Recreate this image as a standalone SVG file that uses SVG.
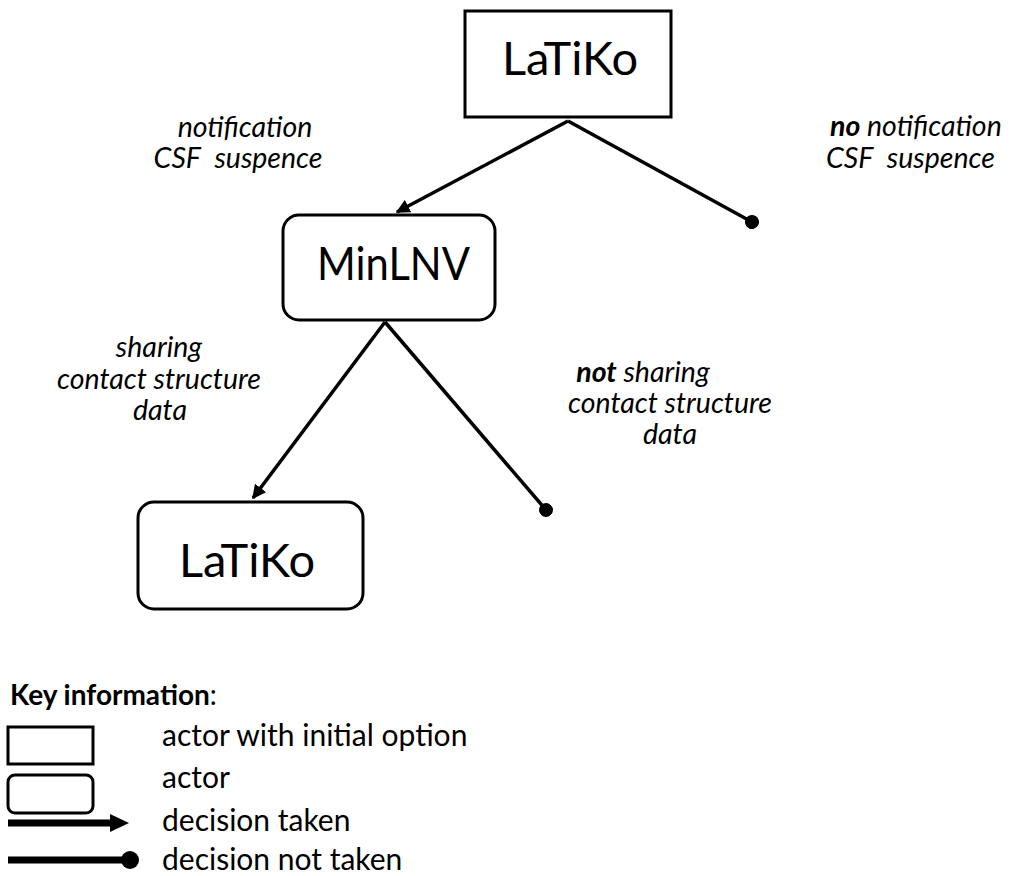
<svg xmlns="http://www.w3.org/2000/svg" width="1011" height="876" viewBox="0 0 1011 876">
  <defs>
    <style>
      text { font-family: Lato, "Open Sans", "Liberation Sans", sans-serif; fill: #000; }
      .box { fill: #fff; stroke: #000; stroke-width: 3; }
      .name { font-size: 47px; text-anchor: middle; }
      .lbl { font-size: 28.5px; font-style: italic; }
      .mid { text-anchor: middle; }
      .gap { word-spacing: -2px; }
      .key { font-size: 30px; }
      .keyhead { font-size: 28px; }
      .edge { stroke: #000; stroke-width: 3.5; fill: none; }
      .keyedge { stroke: #000; stroke-width: 7; fill: none; }
    </style>
    <marker id="arrow" viewBox="0 0 10 10" refX="9" refY="5" markerWidth="4" markerHeight="4" orient="auto" markerUnits="strokeWidth">
      <path d="M0,0 L10,5 L0,10 Z" fill="#000"/>
    </marker>
    <marker id="dot" viewBox="0 0 10 10" refX="5" refY="5" markerWidth="4" markerHeight="4" orient="auto" markerUnits="strokeWidth">
      <circle cx="5" cy="5" r="5" fill="#000"/>
    </marker>
  </defs>

  <!-- connectors -->
  <g id="connectors">
    <line class="edge" x1="568" y1="121" x2="397" y2="212" marker-end="url(#arrow)"/>
    <line class="edge" x1="568" y1="121" x2="752" y2="222" marker-end="url(#dot)"/>
    <line class="edge" x1="385" y1="322" x2="253" y2="498" marker-end="url(#arrow)"/>
    <line class="edge" x1="385" y1="322" x2="546" y2="510" marker-end="url(#dot)"/>
  </g>

  <!-- edge labels -->
  <g id="labels">
    <text class="lbl mid" x="245" y="137">notification</text>
    <text class="lbl mid gap" x="238" y="168" xml:space="preserve">CSF   suspence</text>
    <text class="lbl" x="830" y="136"><tspan font-weight="bold">no</tspan> notification</text>
    <text class="lbl gap" x="826" y="168" xml:space="preserve">CSF   suspence</text>
    <text class="lbl mid" x="159" y="357">sharing</text>
    <text class="lbl mid" x="159" y="389">contact structure</text>
    <text class="lbl mid" x="160" y="420">data</text>
    <text class="lbl mid" x="643" y="382"><tspan font-weight="bold">not</tspan> sharing</text>
    <text class="lbl mid" x="670" y="413">contact structure</text>
    <text class="lbl mid" x="670" y="444">data</text>
  </g>

  <!-- actors -->
  <g id="node-latiko-top">
    <rect class="box" x="465" y="11" width="206" height="106"/>
    <text class="name" x="570" y="75">LaTiKo</text>
  </g>
  <g id="node-minlnv">
    <rect class="box" x="283" y="215" width="212" height="105" rx="16"/>
    <text class="name" x="393.5" y="280" textLength="153" lengthAdjust="spacingAndGlyphs">MinLNV</text>
  </g>
  <g id="node-latiko-bottom">
    <rect class="box" x="138" y="502" width="225" height="107" rx="16"/>
    <text class="name" x="247" y="577">LaTiKo</text>
  </g>

  <!-- key -->
  <g id="key">
    <text class="keyhead" x="10" y="705"><tspan font-weight="bold">Key information</tspan>:</text>
    <rect class="box" x="8" y="727" width="85" height="37"/>
    <text class="key" x="162" y="746">actor with initial option</text>
    <rect class="box" x="8" y="775" width="85" height="38" rx="7"/>
    <text class="key" x="162" y="788">actor</text>
    <line class="keyedge" x1="8" y1="823" x2="111" y2="823"/>
    <path d="M110,814 L129,823 L110,832 Z" fill="#000"/>
    <text class="key" x="162" y="831">decision taken</text>
    <line class="keyedge" x1="8" y1="860" x2="125" y2="860"/>
    <circle cx="130" cy="860" r="9" fill="#000"/>
    <text class="key" x="162" y="870">decision not taken</text>
  </g>
</svg>
